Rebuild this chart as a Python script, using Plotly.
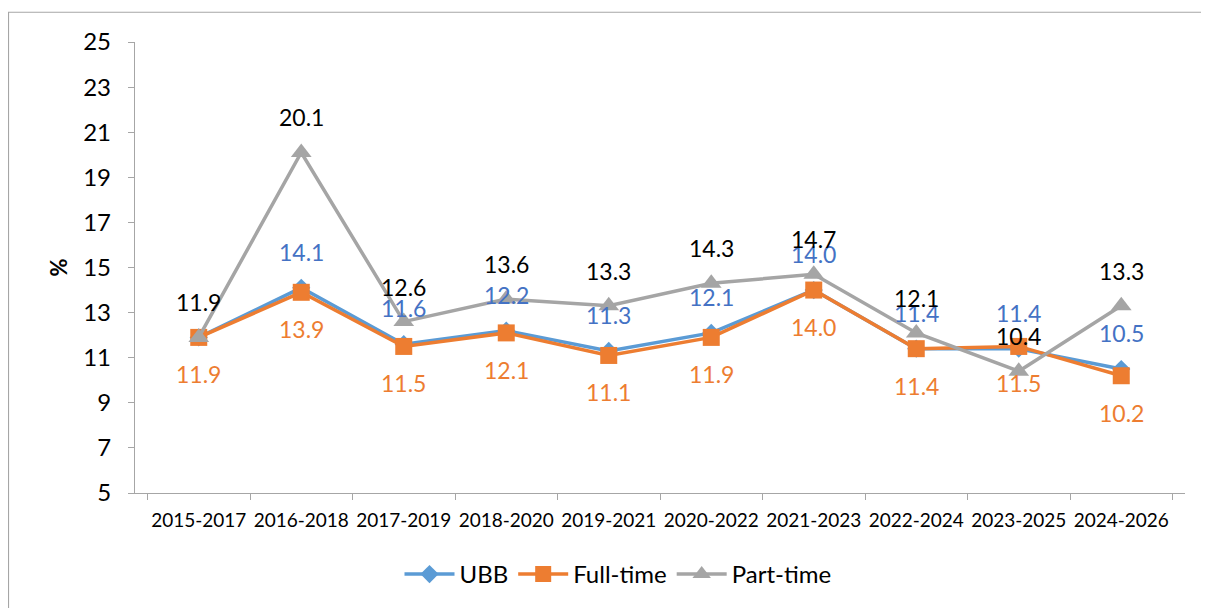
import plotly.graph_objects as go

periods = ['2015-2017', '2016-2018', '2017-2019', '2018-2020', '2019-2021',
           '2020-2022', '2021-2023', '2022-2024', '2023-2025', '2024-2026']
ubb = [11.9, 14.1, 11.6, 12.2, 11.3, 12.1, 14.0, 11.4, 11.4, 10.5]
full_time = [11.9, 13.9, 11.5, 12.1, 11.1, 11.9, 14.0, 11.4, 11.5, 10.2]
part_time = [11.9, 20.1, 12.6, 13.6, 13.3, 14.3, 14.7, 12.1, 10.4, 13.3]
y_ticks = [5, 7, 9, 11, 13, 15, 17, 19, 21, 23, 25]

FONT = 'Lato, Carlito, Calibri, sans-serif'

fig = go.Figure()

fig.add_trace(go.Scatter(
    x=periods, y=ubb, name='UBB', mode='lines+markers',
    line=dict(color='#5B9BD5', width=3.5),
    marker=dict(symbol='diamond', size=14, color='#5B9BD5'),
))
fig.add_trace(go.Scatter(
    x=periods, y=full_time, name='Full-time', mode='lines+markers',
    line=dict(color='#ED7D31', width=3.5),
    marker=dict(symbol='square', size=17, color='#ED7D31'),
))
fig.add_trace(go.Scatter(
    x=periods, y=part_time, name='Part-time', mode='lines+markers',
    line=dict(color='#A5A5A5', width=3.5),
    marker=dict(symbol='triangle-up', size=18, color='#A5A5A5'),
))

# data labels: UBB and part-time above, full-time below
for i, p in enumerate(periods):
    if i > 0:
        fig.add_annotation(x=p, y=ubb[i], text=f'{ubb[i]:.1f}', showarrow=False,
                           yshift=36, font=dict(size=23, color='#4472C4', family=FONT))
    fig.add_annotation(x=p, y=full_time[i], text=f'{full_time[i]:.1f}', showarrow=False,
                       yshift=-37, font=dict(size=23, color='#ED7D31', family=FONT))
    fig.add_annotation(x=p, y=part_time[i], text=f'{part_time[i]:.1f}', showarrow=False,
                       yshift=35, font=dict(size=23, color='#000000', family=FONT))

# outer chart border (runs past the right/bottom edges of the picture)
fig.add_shape(type='rect', xref='paper', yref='paper',
              x0=-0.1205, x1=1.3, y0=-0.5, y1=1.066,
              line=dict(color='#A6A6A6', width=1.2), fillcolor='rgba(0,0,0,0)')

# page body has an 8px margin, so the figure is sized to fit inside the window
fig.update_layout(
    width=1201, height=600,
    margin=dict(l=127, r=24, t=34, b=114),
    paper_bgcolor='white', plot_bgcolor='white',
    font=dict(family=FONT, color='#000000'),
    showlegend=True,
    legend=dict(orientation='h', x=0.46, xanchor='center', y=-0.178, yanchor='middle',
                font=dict(size=24, family=FONT), itemwidth=50, tracegroupgap=0,
                bgcolor='rgba(0,0,0,0)'),
    xaxis=dict(
        showline=True, linecolor='#A6A6A6', linewidth=1.3, automargin=False,
        ticks='outside', tickson='boundaries', ticklen=6, tickcolor='#A6A6A6',
        tickangle=0, ticklabelstandoff=10, tickfont=dict(size=19, family=FONT),
        showgrid=False,
    ),
    yaxis=dict(
        range=[5, 25], tickvals=y_ticks, showline=True, linecolor='#A6A6A6', linewidth=1.3,
        ticks='outside', ticklen=6, tickcolor='#A6A6A6', showgrid=False, zeroline=False,
        automargin=False, ticklabelstandoff=12, tickfont=dict(size=24, family=FONT),
        title=dict(text='<b>%</b>', font=dict(size=22, family=FONT), standoff=9),
    ),
)

fig.write_html('out.html')
